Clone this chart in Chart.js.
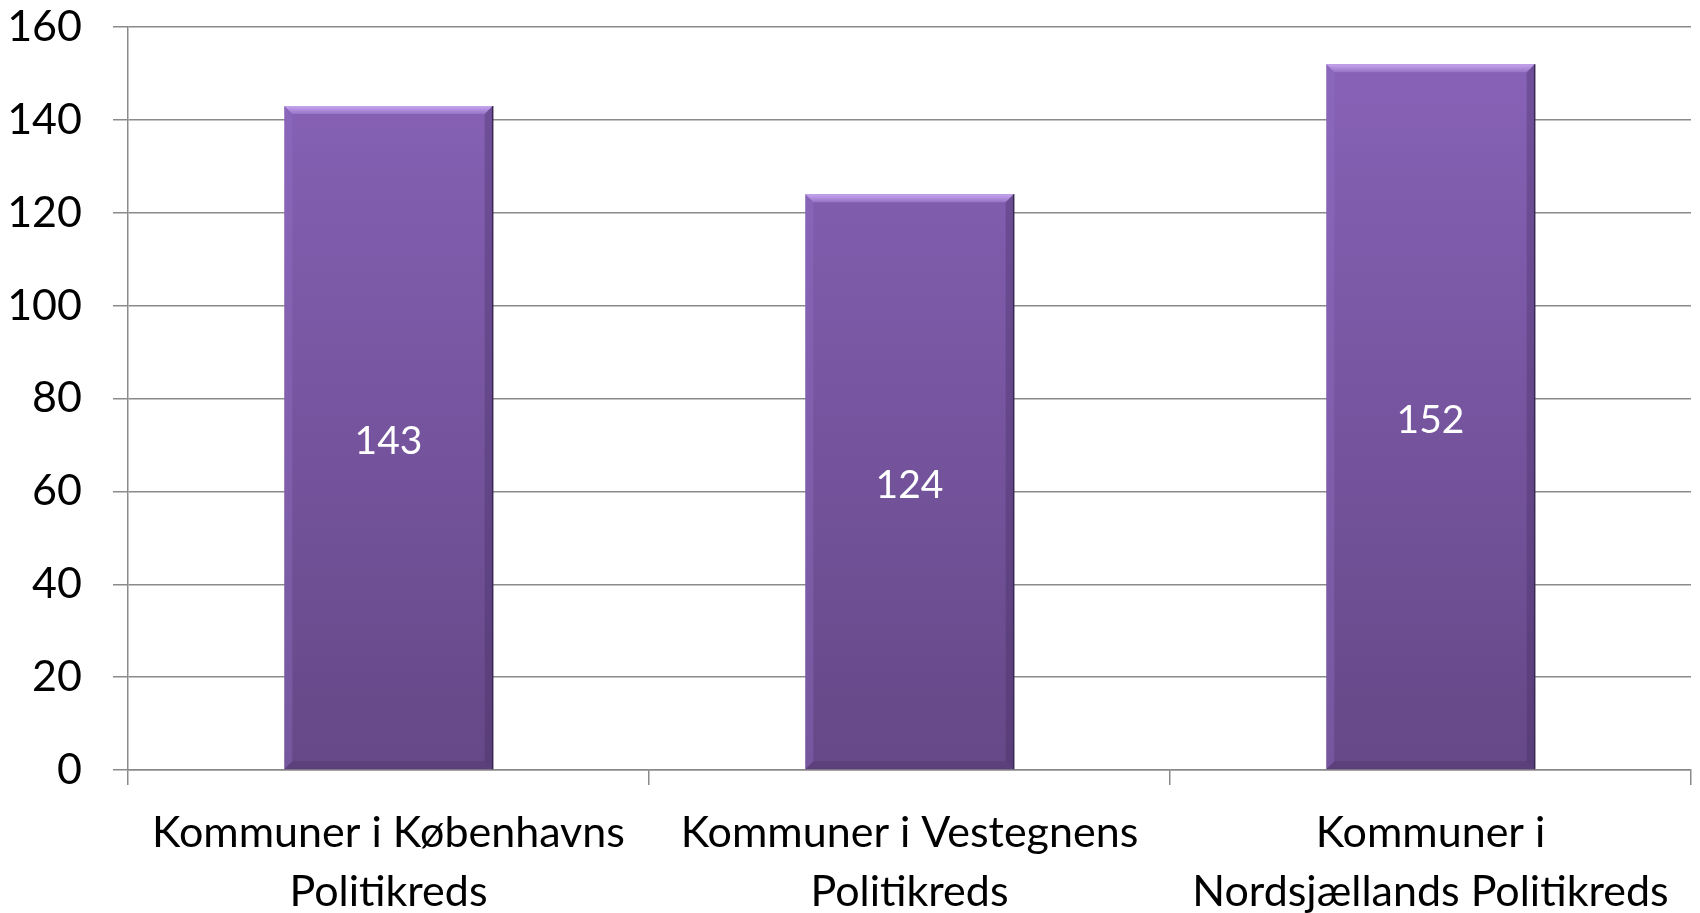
<!DOCTYPE html>
<html>
<head>
<meta charset="utf-8">
<script src="https://cdn.jsdelivr.net/npm/chart.js@4/dist/chart.umd.min.js"></script>
<style>
  html, body { margin: 0; padding: 0; background: #fff; }
  canvas { display: block; }
</style>
</head>
<body>
<canvas id="grafica" width="1700" height="913"></canvas>
<script>
// Datos del gráfico
const categorias = [
    ['Kommuner i Københavns', 'Politikreds'],
    ['Kommuner i Vestegnens', 'Politikreds'],
    ['Kommuner i', 'Nordsjællands Politikreds']
];
const valores = [143, 124, 152];
const ejeY = { min: 0, max: 160, paso: 20 };

const fuente = 'Lato, "Open Sans", sans-serif';

// Relleno degradado de las barras
function degradado(context) {
    const chart = context.chart;
    const area = chart.chartArea;
    if (!area) return '#7656a0';
    const g = chart.ctx.createLinearGradient(0, area.top, 0, area.bottom);
    g.addColorStop(0, '#8963b9');
    g.addColorStop(1, '#654887');
    return g;
}

// Biselado de las barras y etiquetas de valor
const pluginBarras = {
    id: 'pluginBarras',
    afterDatasetsDraw(chart) {
        const ctx = chart.ctx;
        const meta = chart.getDatasetMeta(0);
        meta.data.forEach((bar, i) => {
            const izq = bar.x - bar.width / 2;
            const der = bar.x + bar.width / 2;
            const arriba = bar.y;
            const abajo = bar.base;
            const b = 8;
            ctx.save();
            // borde superior claro
            const gs = ctx.createLinearGradient(0, arriba, 0, arriba + b);
            gs.addColorStop(0, '#c8a6f0');
            gs.addColorStop(1, '#9775c6');
            ctx.fillStyle = gs;
            ctx.beginPath();
            ctx.moveTo(izq, arriba);
            ctx.lineTo(der, arriba);
            ctx.lineTo(der - b, arriba + b);
            ctx.lineTo(izq + b, arriba + b);
            ctx.closePath();
            ctx.fill();
            // lado izquierdo
            ctx.fillStyle = 'rgba(150,115,200,0.35)';
            ctx.beginPath();
            ctx.moveTo(izq, arriba);
            ctx.lineTo(izq + b, arriba + b);
            ctx.lineTo(izq + b, abajo - b);
            ctx.lineTo(izq, abajo);
            ctx.closePath();
            ctx.fill();
            // lado derecho
            ctx.fillStyle = 'rgba(60,40,90,0.30)';
            ctx.beginPath();
            ctx.moveTo(der, arriba);
            ctx.lineTo(der - b, arriba + b);
            ctx.lineTo(der - b, abajo - b);
            ctx.lineTo(der, abajo);
            ctx.closePath();
            ctx.fill();
            // borde inferior
            ctx.fillStyle = 'rgba(70,45,100,0.30)';
            ctx.beginPath();
            ctx.moveTo(izq, abajo);
            ctx.lineTo(izq + b, abajo - b);
            ctx.lineTo(der - b, abajo - b);
            ctx.lineTo(der, abajo);
            ctx.closePath();
            ctx.fill();
            // contorno oscuro a la derecha
            ctx.strokeStyle = '#3a2852';
            ctx.lineWidth = 1.5;
            ctx.beginPath();
            ctx.moveTo(der, arriba);
            ctx.lineTo(der, abajo);
            ctx.stroke();
            // valor
            ctx.fillStyle = '#ffffff';
            ctx.font = '39px ' + fuente;
            ctx.textAlign = 'center';
            ctx.textBaseline = 'middle';
            ctx.fillText(String(valores[i]), bar.x, (arriba + abajo) / 2 + 4);
            ctx.restore();
        });
    }
};

const ctx = document.getElementById('grafica').getContext('2d');
new Chart(ctx, {
    type: 'bar',
    data: {
        labels: categorias,
        datasets: [{
            data: valores,
            backgroundColor: degradado,
            borderWidth: 0,
            barPercentage: 0.4,
            categoryPercentage: 1.0
        }]
    },
    options: {
        responsive: false,
        devicePixelRatio: 1,
        animation: false,
        layout: { padding: { top: 0, right: 9, left: 0, bottom: 0 } },
        plugins: {
            legend: { display: false },
            tooltip: { enabled: false }
        },
        scales: {
            x: {
                offset: true,
                afterFit(scale) { scale.height = 143; },
                grid: {
                    offset: true,
                    drawOnChartArea: false,
                    drawTicks: true,
                    tickLength: 15,
                    color: '#8a8a8a',
                    lineWidth: 1.5
                },
                border: { display: true, color: '#8a8a8a', width: 1.5 },
                ticks: {
                    color: '#000000',
                    font: { family: fuente, size: 43, lineHeight: 1.37 },
                    padding: 19,
                    maxRotation: 0,
                    autoSkip: false
                }
            },
            y: {
                min: ejeY.min,
                max: ejeY.max,
                afterFit(scale) {
                    scale.width = 128;
                    // margen superior fijo para el área del gráfico
                    scale.paddingTop = 27;
                    scale.paddingBottom = 0;
                },
                grid: {
                    color: '#8a8a8a',
                    lineWidth: 1.5,
                    tickLength: 15
                },
                border: { display: true, color: '#8a8a8a', width: 1.5 },
                ticks: {
                    stepSize: ejeY.paso,
                    color: '#000000',
                    font: { family: fuente, size: 43 },
                    padding: 31
                }
            }
        }
    },
    plugins: [pluginBarras]
});
</script>
</body>
</html>
